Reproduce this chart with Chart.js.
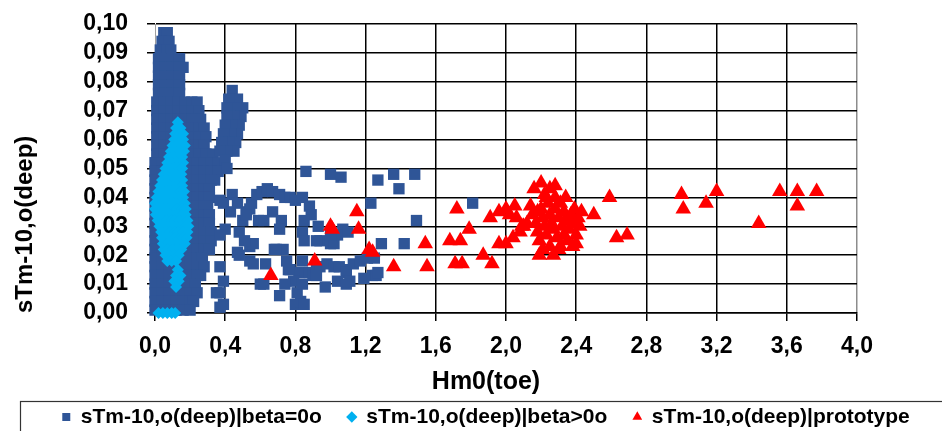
<!DOCTYPE html>
<html>
<head>
<meta charset="utf-8">
<script src="https://cdn.jsdelivr.net/npm/chart.js@4.4.1/dist/chart.umd.min.js"></script>
<style>
  html, body { margin: 0; padding: 0; background: #fff; }
  canvas { display: block; }
</style>
</head>
<body>
<canvas id="chart" width="942" height="431"></canvas>
<script>
const xTickLabels = ['0,0', '0,4', '0,8', '1,2', '1,6', '2,0', '2,4', '2,8', '3,2', '3,6', '4,0'];
const yTickLabels = ['0,00', '0,01', '0,02', '0,03', '0,04', '0,05', '0,06', '0,07', '0,08', '0,09', '0,10'];

// sTm-10,o(deep)|beta=0o  [Hm0(toe), sTm]
const betaZero = [
    [0.05,0.097],[0.07,0.097],
    [0.04,0.094],[0.08,0.094],
    [0.03,0.091],[0.07,0.091],[0.09,0.091],
    [0.02,0.088],[0.06,0.088],[0.10,0.088],[0.14,0.088],
    [0.02,0.085],[0.06,0.085],[0.10,0.085],[0.14,0.085],[0.16,0.085],
    [0.02,0.082],[0.06,0.082],[0.10,0.082],[0.14,0.082],
    [0.02,0.079],[0.06,0.079],[0.10,0.079],[0.14,0.079],
    [0.02,0.076],[0.06,0.076],[0.10,0.076],[0.14,0.076],
    [0.01,0.073],[0.05,0.073],[0.09,0.073],[0.13,0.073],[0.17,0.073],[0.21,0.073],[0.24,0.073],
    [0.01,0.070],[0.05,0.070],[0.09,0.070],[0.13,0.070],[0.17,0.070],[0.21,0.070],[0.25,0.070],
    [0.01,0.067],[0.05,0.067],[0.09,0.067],[0.13,0.067],[0.17,0.067],[0.21,0.067],[0.26,0.067],
    [0.01,0.064],[0.05,0.064],[0.09,0.064],[0.13,0.064],[0.17,0.064],[0.21,0.064],[0.25,0.064],[0.28,0.064],
    [0.01,0.061],[0.05,0.061],[0.09,0.061],[0.13,0.061],[0.17,0.061],[0.21,0.061],[0.25,0.061],[0.29,0.061],
    [0.01,0.058],[0.05,0.058],[0.09,0.058],[0.13,0.058],[0.17,0.058],[0.21,0.058],[0.25,0.058],[0.28,0.058],
    [0.01,0.055],[0.05,0.055],[0.09,0.055],[0.13,0.055],[0.17,0.055],[0.21,0.055],[0.25,0.055],[0.29,0.055],[0.33,0.055],
    [0.00,0.052],[0.04,0.052],[0.08,0.052],[0.12,0.052],[0.16,0.052],[0.20,0.052],[0.24,0.052],[0.28,0.052],[0.32,0.052],[0.36,0.052],
    [0.00,0.049],[0.04,0.049],[0.08,0.049],[0.12,0.049],[0.16,0.049],[0.20,0.049],[0.24,0.049],[0.28,0.049],[0.32,0.049],[0.36,0.049],
    [0.00,0.046],[0.04,0.046],[0.08,0.046],[0.12,0.046],[0.16,0.046],[0.20,0.046],[0.24,0.046],[0.28,0.046],[0.32,0.046],[0.34,0.046],
    [0.00,0.043],[0.04,0.043],[0.08,0.043],[0.12,0.043],[0.16,0.043],[0.20,0.043],[0.24,0.043],[0.28,0.043],[0.31,0.043],
    [0.00,0.040],[0.04,0.040],[0.08,0.040],[0.12,0.040],[0.16,0.040],[0.20,0.040],[0.24,0.040],[0.28,0.040],[0.31,0.040],
    [0.00,0.037],[0.04,0.037],[0.08,0.037],[0.12,0.037],[0.16,0.037],[0.20,0.037],[0.24,0.037],[0.28,0.037],[0.30,0.037],
    [0.00,0.034],[0.04,0.034],[0.08,0.034],[0.12,0.034],[0.16,0.034],[0.20,0.034],[0.24,0.034],[0.28,0.034],[0.31,0.034],
    [0.00,0.031],[0.04,0.031],[0.08,0.031],[0.12,0.031],[0.16,0.031],[0.20,0.031],[0.24,0.031],[0.28,0.031],[0.31,0.031],
    [0.00,0.028],[0.04,0.028],[0.08,0.028],[0.12,0.028],[0.16,0.028],[0.20,0.028],[0.24,0.028],[0.28,0.028],[0.32,0.028],
    [0.00,0.025],[0.04,0.025],[0.08,0.025],[0.12,0.025],[0.16,0.025],[0.20,0.025],[0.24,0.025],[0.28,0.025],[0.32,0.025],
    [0.00,0.022],[0.04,0.022],[0.08,0.022],[0.12,0.022],[0.16,0.022],[0.20,0.022],[0.24,0.022],[0.28,0.022],[0.31,0.022],
    [0.00,0.019],[0.04,0.019],[0.08,0.019],[0.12,0.019],[0.16,0.019],[0.20,0.019],[0.24,0.019],[0.27,0.019],
    [0.00,0.016],[0.04,0.016],[0.08,0.016],[0.12,0.016],[0.16,0.016],[0.20,0.016],[0.24,0.016],[0.28,0.016],
    [0.00,0.013],[0.04,0.013],[0.08,0.013],[0.12,0.013],[0.16,0.013],[0.20,0.013],[0.24,0.013],[0.26,0.013],
    [0.00,0.010],[0.04,0.010],[0.08,0.010],[0.12,0.010],[0.16,0.010],[0.20,0.010],[0.23,0.010],
    [0.00,0.007],[0.04,0.007],[0.08,0.007],[0.12,0.007],[0.16,0.007],[0.20,0.007],[0.24,0.007],
    [0.00,0.004],[0.04,0.004],[0.08,0.004],[0.12,0.004],[0.16,0.004],[0.20,0.004],[0.22,0.004],
    [0.00,0.001],[0.04,0.001],[0.08,0.001],[0.12,0.001],[0.16,0.001],[0.20,0.001],
    // second column
    [0.44,0.077],[0.47,0.074],[0.42,0.074],[0.50,0.071],[0.46,0.071],[0.41,0.071],
    [0.49,0.068],[0.45,0.068],[0.41,0.068],[0.48,0.065],[0.44,0.065],[0.40,0.065],
    [0.47,0.062],[0.43,0.062],[0.39,0.062],[0.46,0.059],[0.42,0.059],[0.38,0.059],
    [0.45,0.056],[0.41,0.056],[0.37,0.056],[0.40,0.053],[0.41,0.050],
    // scatter to the right
    [0.37,0.039],[0.44,0.041],[0.43,0.035],[0.52,0.035],[0.48,0.028],[0.39,0.038],[0.47,0.038],
    [0.54,0.036],[0.59,0.032],[0.50,0.032],[0.40,0.029],[0.37,0.027],[0.47,0.021],[0.54,0.023],
    [0.54,0.018],[0.37,0.016],[0.39,0.011],[0.37,0.007],[0.39,0.003],[0.60,0.010],[0.35,0.007],[0.37,0.002],
    [0.55,0.038],[0.58,0.041],[0.61,0.042],[0.64,0.043],[0.67,0.042],[0.71,0.041],[0.74,0.040],
    [0.77,0.040],[0.80,0.039],[0.84,0.040],[0.88,0.037],[0.89,0.034],[0.85,0.032],[0.93,0.030],
    [0.67,0.035],[0.72,0.032],[0.62,0.032],[0.52,0.034],[0.71,0.029],[0.84,0.028],[0.85,0.025],
    [0.94,0.025],[0.92,0.025],[1.00,0.024],[1.02,0.024],[1.07,0.029],[1.04,0.027],[1.10,0.028],[1.00,0.027],
    [0.86,0.049],[1.00,0.048],[1.06,0.047],[1.27,0.046],[1.36,0.048],[1.39,0.043],[1.48,0.048],
    [1.23,0.038],[1.81,0.038],[1.49,0.032],[1.29,0.024],[1.42,0.024],
    [0.56,0.024],[0.51,0.025],[0.48,0.020],[0.56,0.017],[0.68,0.022],[0.73,0.022],[0.75,0.018],
    [0.77,0.015],[0.82,0.014],[0.79,0.011],[0.74,0.010],[0.71,0.006],[0.80,0.003],[0.83,0.004],
    [0.81,0.007],[0.62,0.010],[0.84,0.010],[0.97,0.009],[0.84,0.018],[0.88,0.014],[0.90,0.013],
    [0.92,0.016],[0.94,0.016],[0.98,0.017],[1.02,0.016],[1.05,0.016],[1.09,0.015],[1.09,0.014],
    [1.13,0.017],[1.17,0.018],[1.21,0.019],[1.25,0.019],[1.19,0.012],[1.24,0.013],[1.26,0.013],
    [1.27,0.014],[1.11,0.011],[1.04,0.011],[1.09,0.010],[0.85,0.003],[0.92,0.013],[0.76,0.015],
    [0.69,0.022],[0.63,0.017]
];

// sTm-10,o(deep)|beta>0o
const betaPositive = [
    [0.13,0.066],
    [0.12,0.064],[0.145,0.064],
    [0.115,0.062],[0.14,0.062],[0.16,0.062],
    [0.11,0.060],[0.135,0.060],[0.16,0.060],
    [0.10,0.058],[0.125,0.058],[0.15,0.058],[0.17,0.058],
    [0.09,0.056],[0.115,0.056],[0.14,0.056],[0.165,0.056],
    [0.08,0.054],[0.105,0.054],[0.13,0.054],[0.155,0.054],
    [0.07,0.052],[0.095,0.052],[0.12,0.052],[0.145,0.052],[0.16,0.052],
    [0.06,0.050],[0.085,0.050],[0.11,0.050],[0.135,0.050],[0.155,0.050],
    [0.05,0.048],[0.075,0.048],[0.10,0.048],[0.125,0.048],[0.15,0.048],
    [0.04,0.046],[0.065,0.046],[0.09,0.046],[0.115,0.046],[0.14,0.046],[0.155,0.046],
    [0.03,0.044],[0.055,0.044],[0.08,0.044],[0.105,0.044],[0.13,0.044],[0.155,0.044],
    [0.02,0.042],[0.045,0.042],[0.07,0.042],[0.095,0.042],[0.12,0.042],[0.145,0.042],[0.165,0.042],
    [0.01,0.040],[0.035,0.040],[0.06,0.040],[0.085,0.040],[0.11,0.040],[0.135,0.040],[0.16,0.040],
    [0.00,0.038],[0.025,0.038],[0.05,0.038],[0.075,0.038],[0.10,0.038],[0.125,0.038],[0.15,0.038],[0.17,0.038],
    [0.00,0.036],[0.025,0.036],[0.05,0.036],[0.075,0.036],[0.10,0.036],[0.125,0.036],[0.15,0.036],[0.175,0.036],
    [0.005,0.034],[0.03,0.034],[0.055,0.034],[0.08,0.034],[0.105,0.034],[0.13,0.034],[0.155,0.034],[0.175,0.034],
    [0.015,0.032],[0.04,0.032],[0.065,0.032],[0.09,0.032],[0.115,0.032],[0.14,0.032],[0.165,0.032],[0.185,0.032],
    [0.025,0.030],[0.05,0.030],[0.075,0.030],[0.10,0.030],[0.125,0.030],[0.15,0.030],[0.175,0.030],[0.19,0.030],
    [0.035,0.028],[0.06,0.028],[0.085,0.028],[0.11,0.028],[0.135,0.028],[0.16,0.028],[0.185,0.028],
    [0.04,0.026],[0.065,0.026],[0.09,0.026],[0.115,0.026],[0.14,0.026],[0.165,0.026],[0.18,0.026],
    [0.045,0.024],[0.07,0.024],[0.095,0.024],[0.12,0.024],[0.145,0.024],[0.17,0.024],
    [0.05,0.022],[0.075,0.022],[0.10,0.022],[0.125,0.022],[0.15,0.022],
    [0.06,0.020],[0.085,0.020],[0.11,0.020],[0.135,0.020],
    [0.07,0.018],[0.095,0.018],[0.12,0.018],
    [0.13,0.015],[0.12,0.013],[0.145,0.013],[0.11,0.011],[0.135,0.011],[0.12,0.009],
    [0.02,0.000],[0.045,0.000],[0.07,0.000],[0.095,0.000],[0.115,0.000]
];

// sTm-10,o(deep)|prototype
const prototype = [
    [0.66,0.013],[0.91,0.018],[1.00,0.030],[1.01,0.029],[1.15,0.035],[1.16,0.029],[1.22,0.022],
    [1.24,0.021],[1.36,0.016],[1.54,0.024],[1.55,0.016],[1.72,0.036],[1.79,0.029],[1.68,0.025],
    [1.74,0.025],[1.71,0.017],[1.75,0.017],[1.87,0.020],[1.92,0.017],[1.91,0.033],[1.96,0.024],
    [1.96,0.035],[2.00,0.036],[2.05,0.037],[2.00,0.024],[2.04,0.026],[2.08,0.028],[2.12,0.031],
    [2.09,0.030],[2.14,0.037],[2.16,0.043],[2.20,0.045],[2.28,0.044],[2.19,0.020],[2.23,0.040],
    [2.34,0.040],[2.18,0.035],[2.31,0.023],[2.40,0.024],[2.43,0.035],[2.50,0.034],[2.59,0.040],
    [2.63,0.026],[2.69,0.027],[3.00,0.041],[3.01,0.036],[3.14,0.038],[3.20,0.042],[3.44,0.031],
    [3.56,0.042],[3.66,0.042],[3.66,0.037],[3.77,0.042],
    [2.15,0.034],[2.17,0.031],[2.18,0.028],[2.19,0.025],[2.20,0.036],[2.21,0.033],[2.22,0.030],
    [2.22,0.041],[2.23,0.027],[2.24,0.038],[2.25,0.034],[2.25,0.023],[2.26,0.031],[2.27,0.029],
    [2.28,0.036],[2.28,0.040],[2.29,0.026],[2.30,0.033],[2.30,0.022],[2.31,0.038],[2.32,0.030],
    [2.33,0.027],[2.33,0.035],[2.34,0.032],[2.35,0.025],[2.36,0.029],[2.37,0.034],[2.38,0.023],
    [2.38,0.031],[2.39,0.036],[2.40,0.027],[2.41,0.033],[2.42,0.030],[2.25,0.043],[2.21,0.022],
    [2.27,0.020],[2.10,0.030],[2.06,0.033],[2.02,0.034]
];

Chart.defaults.font.family = '"Liberation Sans", Arial, sans-serif';
Chart.defaults.color = '#000';

// frame around the legend, like the Excel original
const legendFrame = {
    id: 'legendFrame',
    afterDraw(chart) {
        const ctx = chart.ctx;
        ctx.save();
        ctx.strokeStyle = '#333';
        ctx.lineWidth = 1.2;
        ctx.strokeRect(20.5, 401.5, 960, 60);
        ctx.restore();
    }
};

new Chart(document.getElementById('chart'), {
    type: 'scatter',
    data: {
        datasets: [
            {
                label: 'sTm-10,o(deep)|beta=0o',
                data: betaZero,
                pointStyle: 'rect',
                pointRadius: 8,
                pointBorderWidth: 0,
                backgroundColor: '#2F5597',
                borderColor: '#2F5597',
                order: 3,
                clip: false
            },
            {
                label: 'sTm-10,o(deep)|beta>0o',
                data: betaPositive,
                pointStyle: 'rectRot',
                pointRadius: 6,
                pointBorderWidth: 0,
                backgroundColor: '#00B0F0',
                borderColor: '#00B0F0',
                order: 2,
                clip: false
            },
            {
                label: 'sTm-10,o(deep)|prototype',
                data: prototype,
                pointStyle: 'triangle',
                pointRadius: 9,
                pointBorderWidth: 0,
                backgroundColor: '#FF0000',
                borderColor: '#FF0000',
                order: 1,
                clip: false
            }
        ]
    },
    options: {
        responsive: false,
        animation: false,
        events: [],
        layout: { padding: { left: 30, top: 0, right: 0, bottom: -6.5 } },
        scales: {
            x: {
                type: 'linear',
                min: 0,
                max: 4,
                ticks: {
                    stepSize: 0.4,
                    padding: 12,
                    maxRotation: 0,
                    autoSkip: false,
                    font: { size: 23, weight: 'bold' },
                    callback: (v, i) => xTickLabels[i]
                },
                grid: {
                    color: (c) => c.index === 0 ? 'rgba(0,0,0,0)' : (c.index === 10 ? '#8c8c8c' : '#000'),
                    lineWidth: 1.5,
                    tickLength: 8,
                    tickColor: '#000'
                },
                border: { color: '#000', width: 1.5 },
                afterFit(scale) {
                    scale.height = 50;
                    scale.paddingLeft = 0;
                    scale.paddingRight = 85;
                }
            },
            y: {
                min: 0,
                max: 0.1,
                ticks: {
                    stepSize: 0.01,
                    padding: 19,
                    autoSkip: false,
                    font: { size: 23, weight: 'bold' },
                    callback: (v, i) => yTickLabels[i]
                },
                grid: { color: '#000', lineWidth: 1.5, tickLength: 8, tickColor: '#000' },
                border: { color: '#a0a0a0', width: 1 },
                title: {
                    display: true,
                    text: 'sTm-10,o(deep)',
                    align: 'start',
                    font: { size: 24, weight: 'bold' },
                    padding: { top: -19, bottom: 0 }
                },
                afterFit(scale) {
                    scale.width = 125;
                    scale.paddingTop = 24;
                    scale.paddingBottom = 0;
                }
            }
        },
        plugins: {
            tooltip: { enabled: false },
            title: {
                display: true,
                text: 'Hm0(toe)',
                position: 'bottom',
                weight: 500,
                color: '#000',
                font: { size: 25, weight: 'bold', lineHeight: 1 },
                padding: { top: 6.5, bottom: -14 }
            },
            legend: {
                position: 'bottom',
                labels: {
                    usePointStyle: true,
                    boxWidth: 8,
                    boxHeight: 8,
                    padding: 26,
                    color: '#000',
                    font: { size: 21, weight: 'bold' },
                    sort: (a, b) => a.datasetIndex - b.datasetIndex
                }
            }
        }
    },
    plugins: [legendFrame]
});
</script>
</body>
</html>
